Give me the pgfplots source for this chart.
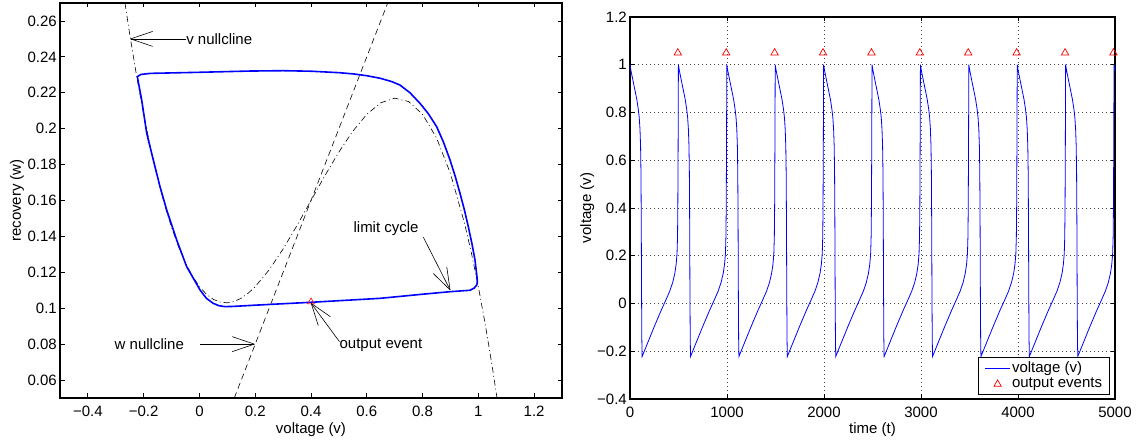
\documentclass[border=0pt]{standalone}
\usepackage{fontspec}
\setmainfont{Liberation Sans}
\usepackage{pgfplots}
\pgfplotsset{compat=1.18}
\usepackage{pgfplotstable}
\usetikzlibrary{arrows.meta}
\definecolor{mblue}{rgb}{0,0,1}
\definecolor{mred}{rgb}{1,0,0}

\pgfplotsset{
  legline/.style={legend image code/.code={\draw[##1, draw=mblue, line width=0.8pt] (0pt,0pt) -- (25pt,0pt);}},
  legmark/.style={legend image code/.code={\draw[mark repeat=2,mark phase=2,##1, draw=mred] plot coordinates {(0pt,0pt) (12.5pt,0pt) (25pt,0pt)};}},
}

\pgfplotstableread[row sep=\\]{
t v\\
0 1.000\\ 10 0.975\\ 30 0.935\\ 50 0.895\\ 70 0.855\\ 85 0.815\\ 95 0.780\\ 103 0.730\\ 109 0.660\\ 113 0.550\\ 116 0.350\\ 119 0.050\\ 122 -0.150\\ 125 -0.222\\ 175 -0.172\\ 250 -0.097\\ 320 -0.030\\ 370 0.015\\ 410 0.052\\ 440 0.088\\ 462 0.126\\ 476 0.165\\ 485 0.210\\ 490 0.280\\ 493 0.400\\ 496 0.650\\
499 1.000\\ 509 0.975\\ 529 0.935\\ 549 0.895\\ 569 0.855\\ 584 0.815\\ 594 0.780\\ 602 0.730\\ 608 0.660\\ 612 0.550\\ 615 0.350\\ 618 0.050\\ 621 -0.150\\ 624 -0.222\\ 674 -0.172\\ 749 -0.097\\ 819 -0.030\\ 869 0.015\\ 909 0.052\\ 939 0.088\\ 961 0.126\\ 975 0.165\\ 984 0.210\\ 989 0.280\\ 992 0.400\\ 995 0.650\\
998 1.000\\ 1008 0.975\\ 1028 0.935\\ 1048 0.895\\ 1068 0.855\\ 1083 0.815\\ 1093 0.780\\ 1101 0.730\\ 1107 0.660\\ 1111 0.550\\ 1114 0.350\\ 1117 0.050\\ 1120 -0.150\\ 1123 -0.222\\ 1173 -0.172\\ 1248 -0.097\\ 1318 -0.030\\ 1368 0.015\\ 1408 0.052\\ 1438 0.088\\ 1460 0.126\\ 1474 0.165\\ 1483 0.210\\ 1488 0.280\\ 1491 0.400\\ 1494 0.650\\
1497 1.000\\ 1507 0.975\\ 1527 0.935\\ 1547 0.895\\ 1567 0.855\\ 1582 0.815\\ 1592 0.780\\ 1600 0.730\\ 1606 0.660\\ 1610 0.550\\ 1613 0.350\\ 1616 0.050\\ 1619 -0.150\\ 1622 -0.222\\ 1672 -0.172\\ 1747 -0.097\\ 1817 -0.030\\ 1867 0.015\\ 1907 0.052\\ 1937 0.088\\ 1959 0.126\\ 1973 0.165\\ 1982 0.210\\ 1987 0.280\\ 1990 0.400\\ 1993 0.650\\
1996 1.000\\ 2006 0.975\\ 2026 0.935\\ 2046 0.895\\ 2066 0.855\\ 2081 0.815\\ 2091 0.780\\ 2099 0.730\\ 2105 0.660\\ 2109 0.550\\ 2112 0.350\\ 2115 0.050\\ 2118 -0.150\\ 2121 -0.222\\ 2171 -0.172\\ 2246 -0.097\\ 2316 -0.030\\ 2366 0.015\\ 2406 0.052\\ 2436 0.088\\ 2458 0.126\\ 2472 0.165\\ 2481 0.210\\ 2486 0.280\\ 2489 0.400\\ 2492 0.650\\
2495 1.000\\ 2505 0.975\\ 2525 0.935\\ 2545 0.895\\ 2565 0.855\\ 2580 0.815\\ 2590 0.780\\ 2598 0.730\\ 2604 0.660\\ 2608 0.550\\ 2611 0.350\\ 2614 0.050\\ 2617 -0.150\\ 2620 -0.222\\ 2670 -0.172\\ 2745 -0.097\\ 2815 -0.030\\ 2865 0.015\\ 2905 0.052\\ 2935 0.088\\ 2957 0.126\\ 2971 0.165\\ 2980 0.210\\ 2985 0.280\\ 2988 0.400\\ 2991 0.650\\
2994 1.000\\ 3004 0.975\\ 3024 0.935\\ 3044 0.895\\ 3064 0.855\\ 3079 0.815\\ 3089 0.780\\ 3097 0.730\\ 3103 0.660\\ 3107 0.550\\ 3110 0.350\\ 3113 0.050\\ 3116 -0.150\\ 3119 -0.222\\ 3169 -0.172\\ 3244 -0.097\\ 3314 -0.030\\ 3364 0.015\\ 3404 0.052\\ 3434 0.088\\ 3456 0.126\\ 3470 0.165\\ 3479 0.210\\ 3484 0.280\\ 3487 0.400\\ 3490 0.650\\
3493 1.000\\ 3503 0.975\\ 3523 0.935\\ 3543 0.895\\ 3563 0.855\\ 3578 0.815\\ 3588 0.780\\ 3596 0.730\\ 3602 0.660\\ 3606 0.550\\ 3609 0.350\\ 3612 0.050\\ 3615 -0.150\\ 3618 -0.222\\ 3668 -0.172\\ 3743 -0.097\\ 3813 -0.030\\ 3863 0.015\\ 3903 0.052\\ 3933 0.088\\ 3955 0.126\\ 3969 0.165\\ 3978 0.210\\ 3983 0.280\\ 3986 0.400\\ 3989 0.650\\
3992 1.000\\ 4002 0.975\\ 4022 0.935\\ 4042 0.895\\ 4062 0.855\\ 4077 0.815\\ 4087 0.780\\ 4095 0.730\\ 4101 0.660\\ 4105 0.550\\ 4108 0.350\\ 4111 0.050\\ 4114 -0.150\\ 4117 -0.222\\ 4167 -0.172\\ 4242 -0.097\\ 4312 -0.030\\ 4362 0.015\\ 4402 0.052\\ 4432 0.088\\ 4454 0.126\\ 4468 0.165\\ 4477 0.210\\ 4482 0.280\\ 4485 0.400\\ 4488 0.650\\
4491 1.000\\ 4501 0.975\\ 4521 0.935\\ 4541 0.895\\ 4561 0.855\\ 4576 0.815\\ 4586 0.780\\ 4594 0.730\\ 4600 0.660\\ 4604 0.550\\ 4607 0.350\\ 4610 0.050\\ 4613 -0.150\\ 4616 -0.222\\ 4666 -0.172\\ 4741 -0.097\\ 4811 -0.030\\ 4861 0.015\\ 4901 0.052\\ 4931 0.088\\ 4953 0.126\\ 4967 0.165\\ 4976 0.210\\ 4981 0.280\\ 4984 0.400\\ 4987 0.650\\
4990 1.000\\ 5000 0.975\\
}\voltdata

\pgfplotstableread[row sep=\\]{
t v\\
493 1.05\\ 992 1.05\\ 1491 1.05\\ 1990 1.05\\ 2489 1.05\\ 2988 1.05\\ 3487 1.05\\ 3986 1.05\\ 4485 1.05\\ 4984 1.05\\
}\eventdata

\begin{document}
\fontsize{15}{18}\selectfont
\begin{tikzpicture}[font=\fontsize{15}{18}\selectfont]
\pgfplotsset{
  mstyle/.style={
    scale only axis,
    axis line style={line width=1.1pt},
    tick align=inside,
    major tick length=4.5pt,
    major tick style={black, line width=0.8pt},
    xticklabel style={anchor=north, inner sep=0pt, yshift=-8pt},
    yticklabel style={anchor=east, inner sep=0pt, xshift=-3pt},
  }
}
% ---------------- left: phase plane ----------------
\begin{axis}[mstyle, at={(60pt,43pt)}, anchor=south west,
  width=502pt, height=395pt,
  xmin=-0.5, xmax=1.3, ymin=0.05, ymax=0.27,
  xtick={-0.4,-0.2,0,0.2,0.4,0.6,0.8,1,1.2},
  xticklabels={−0.4,−0.2,0,0.2,0.4,0.6,0.8,1,1.2},
  ytick={0.06,0.08,0.1,0.12,0.14,0.16,0.18,0.2,0.22,0.24,0.26},
  yticklabels={0.06,0.08,0.1,0.12,0.14,0.16,0.18,0.2,0.22,0.24,0.26},
  xlabel={voltage (v)}, ylabel={recovery (w)},
  xlabel style={at={(axis description cs:0.5,-0.0911)}, anchor=base},
  ylabel style={at={(axis description cs:-0.0777,0.5)}, anchor=base},
]
% v nullcline
\addplot[black, line width=0.6pt, dash pattern=on 6pt off 3pt on 1pt off 3pt] coordinates {
(-0.267,0.2700) (-0.25,0.2526) (-0.225,0.2291) (-0.2,0.2080) (-0.175,0.1891) (-0.15,0.1724)
(-0.125,0.1577) (-0.1,0.1450) (-0.075,0.1343) (-0.05,0.1251) (-0.025,0.1180) (0,0.1120) (0.025,0.1078)
(0.05,0.1049) (0.075,0.1034) (0.1,0.1030) (0.125,0.1038) (0.15,0.1056) (0.175,0.1084) (0.2,0.1120)
(0.25,0.1214) (0.3,0.1330) (0.35,0.1461) (0.4,0.1600) (0.45,0.1739) (0.5,0.1870)
(0.55,0.1986) (0.6,0.2080) (0.65,0.2144) (0.7,0.2170) (0.75,0.2151) (0.8,0.2080)
(0.85,0.1949) (0.9,0.1750) (0.95,0.1476) (0.975,0.1309) (1.0,0.1120) (1.025,0.0909)
(1.05,0.0674) (1.067,0.0500)};
% w nullcline
\addplot[black, line width=0.6pt, dash pattern=on 6pt off 4pt] coordinates {(0.125,0.05) (0.675,0.27)};
% limit cycle
\addplot[mblue, line width=1.6pt, line join=round] coordinates {
(-0.2228,0.2290) (-0.21,0.2302) (-0.177,0.2308) (0.0,0.2314) (0.18,0.2321) (0.3,0.2323) (0.4,0.2320)
(0.5,0.2312) (0.5518,0.2305) (0.6,0.2295) (0.6474,0.2281) (0.69,0.2262) (0.719,0.2243) (0.755,0.2200)
(0.7908,0.2141) (0.82,0.2085) (0.8506,0.2011) (0.875,0.1925) (0.8984,0.1826) (0.917,0.1735)
(0.9343,0.1640) (0.95,0.1548) (0.9641,0.1454) (0.977,0.1360) (0.988,0.1269) (0.9964,0.1157)
(0.996,0.1140) (0.994,0.1129) (0.985,0.1112) (0.97,0.1100) (0.898,0.1092) (0.8,0.1078)
(0.6474,0.1055) (0.4,0.1033) (0.2,0.1017) (0.12,0.1010) (0.0916,0.1009) (0.07,0.1014) (0.0497,0.1027)
(0.025,0.1055) (0.002,0.1102) (-0.0457,0.1231) (-0.0816,0.1380) (-0.1175,0.1547) (-0.1414,0.1677)
(-0.1655,0.1826) (-0.189,0.1974) (-0.2071,0.2160) (-0.2228,0.2290)};
% output event
\addplot[mred, only marks, mark=triangle, mark size=4pt, mark options={line width=0.6pt}] coordinates {(0.4,0.1035)};
% annotations
\draw[line width=0.6pt, -{Straight Barb[length=22pt,width=15pt]}] (axis cs:-0.048,0.25) -- (axis cs:-0.25,0.25);
\node[anchor=west, inner sep=0pt] at (axis cs:-0.048,0.25) {v nullcline};
\draw[line width=0.6pt, -{Straight Barb[length=22pt,width=15pt]}] (axis cs:0.002,0.08) -- (axis cs:0.2,0.08);
\node[anchor=east, inner sep=0pt] at (axis cs:-0.055,0.08) {w nullcline};
\draw[line width=0.6pt, -{Straight Barb[length=22pt,width=15pt]}] (axis cs:0.803,0.1395) -- (axis cs:0.9,0.1098);
\node[anchor=west, inner sep=0pt] at (axis cs:0.552,0.1445) {limit cycle};
\draw[line width=0.6pt, -{Straight Barb[length=22pt,width=15pt]}] (axis cs:0.502,0.0814) -- (axis cs:0.399,0.1031);
\node[anchor=west, inner sep=0pt] at (axis cs:0.502,0.0795) {output event};
\end{axis}

% ---------------- right: time series ----------------
\begin{axis}[mstyle, at={(630pt,42pt)}, anchor=south west,
  width=485pt, height=382pt,
  xmin=0, xmax=5000, ymin=-0.4, ymax=1.2,
  xtick={0,1000,2000,3000,4000,5000},
  xticklabels={0,1000,2000,3000,4000,5000},
  ytick={-0.4,-0.2,0,0.2,0.4,0.6,0.8,1,1.2},
  yticklabels={−0.4,−0.2,0,0.2,0.4,0.6,0.8,1,1.2},
  grid=major,
  grid style={black!75, line width=0.6pt, dash pattern=on 0.6pt off 3.4pt},
  xlabel={time (t)}, ylabel={voltage (v)},
  xlabel style={at={(axis description cs:0.5,-0.0916)}, anchor=base},
  ylabel style={at={(axis description cs:-0.0804,0.5)}, anchor=base},
  legend style={at={(1,0)}, anchor=south east, xshift=-5pt, yshift=4pt,
    draw=black, line width=0.8pt, fill=white, inner xsep=6pt, inner ysep=3pt,
    nodes={inner sep=1.5pt}, font=\fontsize{15}{18}\selectfont},
  legend cell align=left,
]
\addplot[mblue, line width=0.8pt, legline] table[x=t,y=v] {\voltdata};
\addplot[mred, only marks, mark=triangle, mark size=4.2pt, mark options={line width=0.7pt}, legmark]
  table[x=t,y=v] {\eventdata};
\legend{voltage (v), output events}
\end{axis}
\pgfresetboundingbox
\path[use as bounding box] (0pt,0pt) rectangle (1141pt,441pt);
\end{tikzpicture}
\end{document}
